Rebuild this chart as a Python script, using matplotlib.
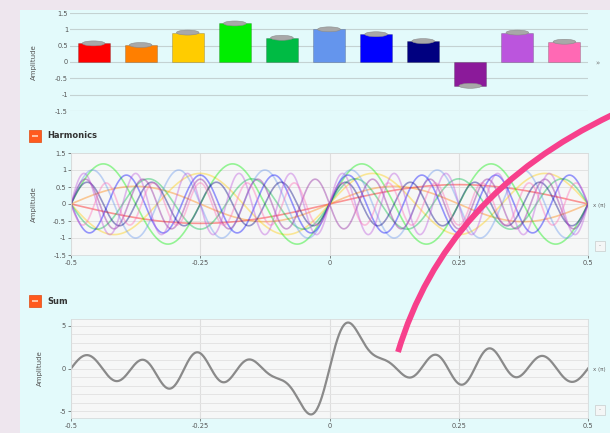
import numpy as np
import matplotlib
matplotlib.use("Agg")
import matplotlib.pyplot as plt
from matplotlib.patches import Rectangle, Ellipse, PathPatch
from matplotlib.path import Path

# harmonic amplitudes
harmonics = [1, 2, 3, 4, 5, 6, 7, 8, 9, 10, 11]
amplitudes = [0.57, 0.52, 0.90, 1.18, 0.74, 1.00, 0.85, 0.64, -0.73, 0.90, 0.62]
colors = ['#ff0000', '#ff7f00', '#ffcc00', '#00ee00', '#00bb44', '#6495ed',
          '#0000ff', '#000080', '#8b1a9a', '#bb55dd', '#ff69b4']
xticks = [-0.5, -0.25, 0, 0.25, 0.5]
xticklabels = ['-0.5', '-0.25', '0', '0.25', '0.5']

W, H = 610, 433
fig = plt.figure(figsize=(W / 100, H / 100), dpi=100)
fig.patch.set_facecolor('#eee6ee')


def px(l, t, r, b):
    return [l / W, 1 - b / H, (r - l) / W, (b - t) / H]


# cyan panel
fig.patches.append(Rectangle((20 / W, 0), 1, 1 - 10 / H, transform=fig.transFigure,
                             facecolor='#e3fafb', edgecolor='none', zorder=-1))

tick_kw = dict(labelsize=4.8, colors='#555555', length=2, width=0.5, pad=1.5)

# ---- amplitude bars ----
ax1 = fig.add_axes(px(70, 13, 588, 111))
ax1.set_facecolor('none')
ax1.bar(harmonics, amplitudes, width=0.68, color=colors, edgecolor='#00000033', lw=0.6, zorder=3)
for h, a in zip(harmonics, amplitudes):
    ax1.add_patch(Ellipse((h, a), 0.48, 0.15, facecolor='#a8a8a8', edgecolor='#8c8c8c',
                          lw=0.4, zorder=4))
ax1.set_xlim(0.5, 11.5)
ax1.set_ylim(-1.5, 1.5)
ax1.set_yticks([-1.5, -1, -0.5, 0, 0.5, 1, 1.5])
ax1.set_yticklabels(['-1.5', '-1', '-0.5', '0', '0.5', '1', '1.5'])
ax1.set_xticks([])
ax1.grid(axis='y', color='#c4d2d2', lw=0.8)
ax1.set_axisbelow(True)
for s in ax1.spines.values():
    s.set_visible(False)
ax1.tick_params(axis='y', **tick_kw)
ax1.tick_params(axis='y', length=0)
ax1.set_ylabel('Amplitude', fontsize=5, color='#555555', labelpad=13)
fig.text(595 / W, 1 - 63 / H, '»', fontsize=5, color='#777777', va='center')

x = np.linspace(-0.5, 0.5, 1000)
waves = [a * np.sin(2 * np.pi * h * x) for h, a in zip(harmonics, amplitudes)]


def style_plot(ax):
    ax.set_facecolor('#f6f7f7')
    for s in ax.spines.values():
        s.set_color('#d8dcdc')
        s.set_linewidth(0.6)
    ax.set_xlim(-0.5, 0.5)
    ax.set_xticks(xticks)
    ax.set_xticklabels(xticklabels)
    ax.tick_params(**tick_kw)
    ax.grid(axis='x', color='#dedede', lw=0.8)
    ax.set_ylabel('Amplitude', fontsize=5, color='#555555', labelpad=12)


def header(y, label):
    r = Rectangle((29 / W, 1 - (y + 6) / H), 12 / W, 12 / H, transform=fig.transFigure,
                  facecolor='#ff5a1e', edgecolor='#e04a10', lw=0.5)
    fig.patches.append(r)
    fig.patches.append(Rectangle((32 / W, 1 - (y + 0.8) / H), 6 / W, 1.6 / H,
                                 transform=fig.transFigure, facecolor='#ffc0a0',
                                 edgecolor='none'))
    fig.text(47 / W, 1 - y / H, label, fontsize=6, fontweight='bold', color='#333333',
             va='center')


def side_controls(ymid, ybox):
    fig.text(593 / W, 1 - ymid / H, 'x (π)', fontsize=4, color='#666666', va='center')
    fig.patches.append(Rectangle((595 / W, 1 - (ybox + 5) / H), 10 / W, 10 / H,
                                 transform=fig.transFigure, facecolor='#f4f6f6',
                                 edgecolor='#c8cccc', lw=0.5))
    fig.text(600 / W, 1 - ybox / H, '-', fontsize=4, color='#888888', ha='center',
             va='center')


# ---- harmonics ----
header(136, 'Harmonics')
ax2 = fig.add_axes(px(71, 153, 588, 255))
style_plot(ax2)
for wv, c in zip(waves, colors):
    ax2.plot(x, wv, color=c, lw=1.2, alpha=0.4)
ax2.set_ylim(-1.5, 1.5)
ax2.set_yticks([-1.5, -1, -0.5, 0, 0.5, 1, 1.5])
ax2.set_yticklabels(['-1.5', '-1', '-0.5', '0', '0.5', '1', '1.5'])
ax2.grid(axis='y', color='#e2e2e2', lw=0.7)
side_controls(205, 246)

# ---- sum ----
header(301, 'Sum')
ax3 = fig.add_axes(px(71, 319, 588, 418))
style_plot(ax3)
ax3.plot(x, np.sum(waves, axis=0), color='#8a8a8a', lw=1.6)
ax3.set_ylim(-5.8, 5.8)
ax3.set_yticks([-5, 0, 5])
ax3.set_yticklabels(['-5', '0', '5'])
ax3.set_yticks(np.arange(-5, 6, 1), minor=True)
ax3.tick_params(axis='y', which='minor', length=0)
ax3.grid(axis='y', which='both', color='#e4e4e4', lw=0.7)
side_controls(369, 410)

# pink annotation stroke
verts = [(398, 352), (445, 195), (612, 115)]
path = Path([(vx / W, 1 - vy / H) for vx, vy in verts], [Path.MOVETO, Path.CURVE3, Path.CURVE3])
fig.patches.append(PathPatch(path, transform=fig.transFigure, facecolor='none',
                             edgecolor='#f7408c', lw=4.2, capstyle='butt', zorder=10))

fig.savefig('out.png', dpi=100, facecolor=fig.get_facecolor())
